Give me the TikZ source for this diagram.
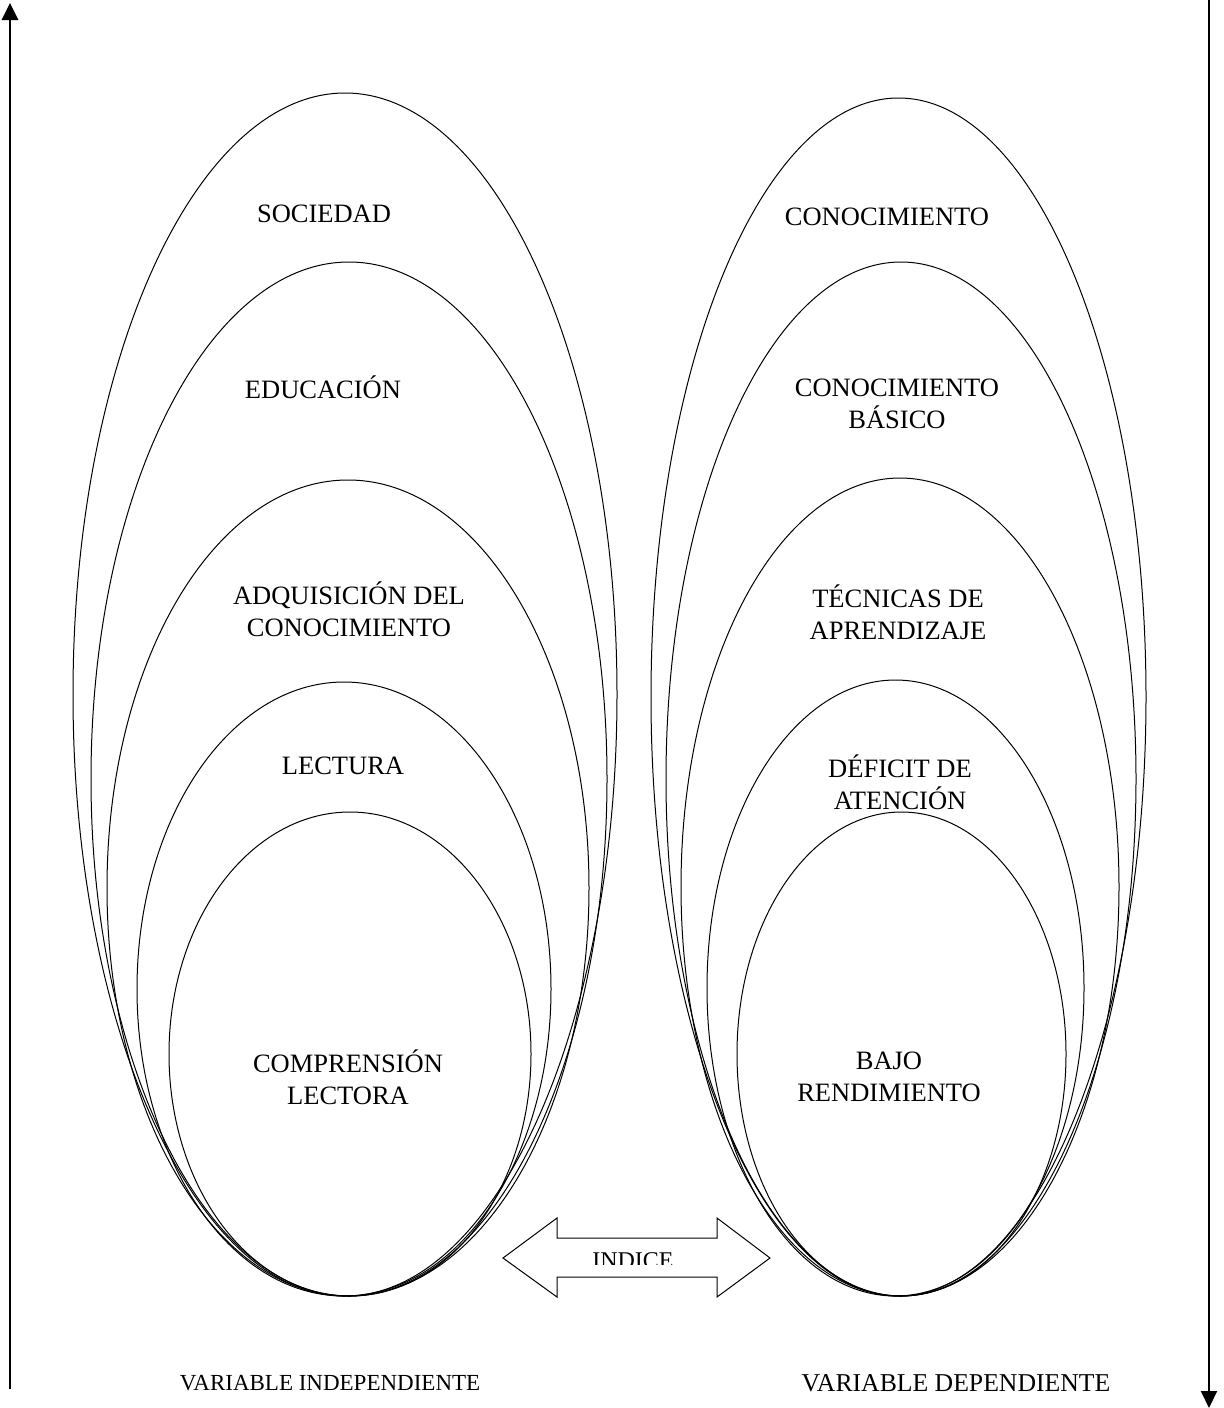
\documentclass[tikz,border=0pt]{standalone}
\usepackage{fontspec}
\setmainfont{Liberation Serif}
\usetikzlibrary{arrows.meta}

\tikzset{
  capa/.style={line width=0.5pt},
  etiqueta/.style={align=center, inner sep=0pt, font=\fontsize{13.25}{16}\selectfont},
  eje/.style={-{Triangle[length=8.5pt,width=8pt]}},
}

\begin{document}
\begin{tikzpicture}[x=0.5pt,y=-0.5pt]
\useasboundingbox (0,0) rectangle (1223,1408);
% ejes
\coordinate (ejeIa) at (10,1389);
\coordinate (ejeIb) at (10,3);
\coordinate (ejeDa) at (1209,0);
\coordinate (ejeDb) at (1209,1408);
\draw [eje, line width=1.4pt] (ejeIa) -- (ejeIb);
\draw [eje, line width=1pt] (ejeDa) -- (ejeDb);
% variable independiente
\draw [capa] (345,694.5) ellipse [x radius=272, y radius=601.5];
\draw [capa] (349,779) ellipse [x radius=258, y radius=517];
\draw [capa] (348,888) ellipse [x radius=241, y radius=408];
\draw [capa] (344,989) ellipse [x radius=207, y radius=307];
\draw [capa] (350,1054) ellipse [x radius=181, y radius=242];
\node [etiqueta] (sociedad) at (324,214) {SOCIEDAD};
\node [etiqueta] (educacion) at (323,387) {EDUCACIÓN};
\node [etiqueta] (adquisicion) at (349,609) {ADQUISICIÓN DEL\\CONOCIMIENTO};
\node [etiqueta] (lectura) at (343,766) {LECTURA};
\node [etiqueta] (comprension) at (348,1077) {COMPRENSIÓN\\LECTORA};
% variable dependiente
\draw [capa] (898.5,697) ellipse [x radius=247.5, y radius=599];
\draw [capa] (901,779) ellipse [x radius=235, y radius=517];
\draw [capa] (900,887) ellipse [x radius=219, y radius=409];
\draw [capa] (895.5,988) ellipse [x radius=188.5, y radius=308];
\draw [capa] (901.5,1054) ellipse [x radius=164.5, y radius=242];
\node [etiqueta] (conocimiento) at (887,217) {CONOCIMIENTO};
\node [etiqueta] (basico) at (897,404) {CONOCIMIENTO\\BÁSICO};
\node [etiqueta] (tecnicas) at (898,612) {TÉCNICAS DE\\APRENDIZAJE};
\node [etiqueta] (deficit) at (900,782) {DÉFICIT DE\\ATENCIÓN};
\node [etiqueta] (bajo) at (889,1077) {BAJO\\RENDIMIENTO};
% indice
\draw [capa] (503,1258) -- (557,1218) -- (557,1238) -- (717,1238) -- (717,1218)
  -- (770,1258) -- (717,1297) -- (717,1277) -- (557,1277) -- (557,1297) -- cycle;
\begin{scope}
\clip (560,1240) rectangle (714,1264);
\node [inner sep=0pt, anchor=base, font=\fontsize{12}{14}\selectfont] (indice) at (633,1268) {INDICE};
\end{scope}
% variables
\node [inner sep=0pt, font=\fontsize{11.5}{14}\selectfont] (indep) at (330,1383) {VARIABLE INDEPENDIENTE};
\node [inner sep=0pt, font=\fontsize{12.85}{15}\selectfont] (dep) at (956,1383) {VARIABLE DEPENDIENTE};
\end{tikzpicture}
\end{document}
